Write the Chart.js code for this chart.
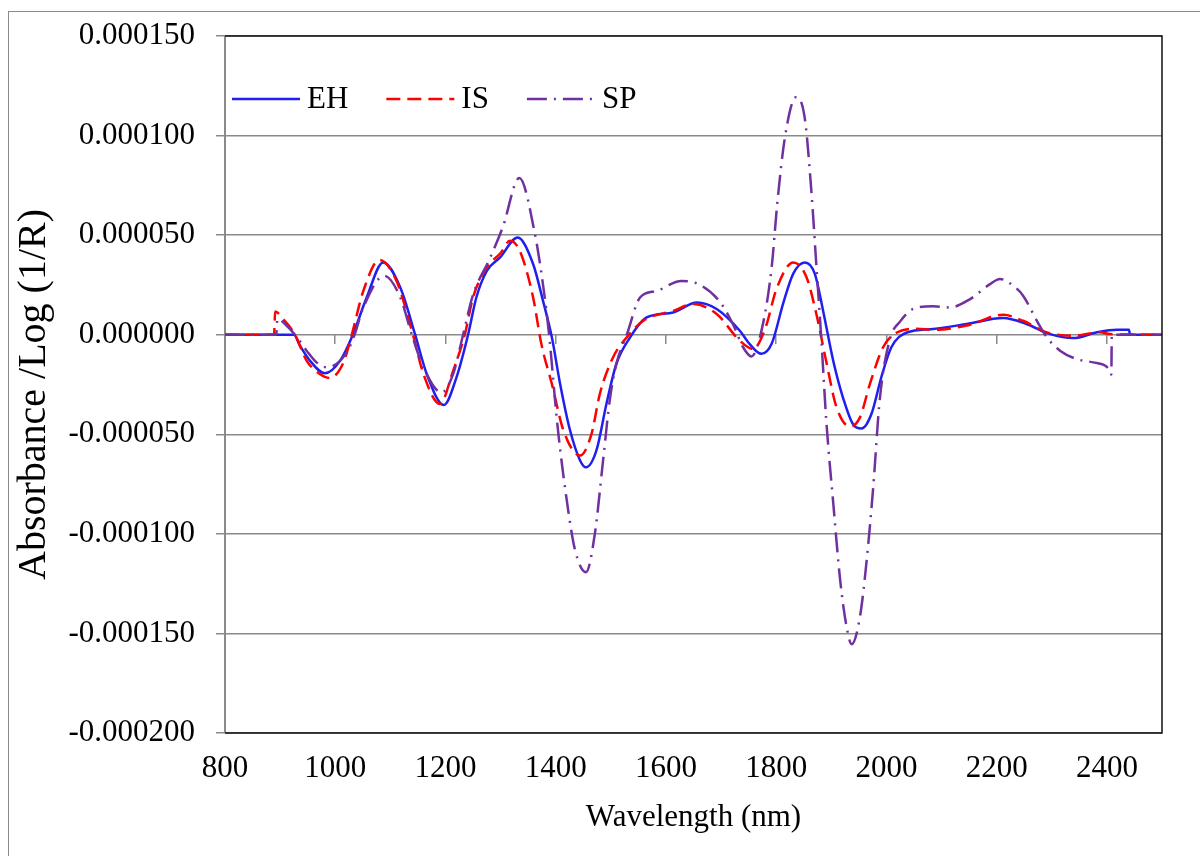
<!DOCTYPE html>
<html>
<head>
<meta charset="utf-8">
<script src="https://cdn.jsdelivr.net/npm/chart.js@4.4.1/dist/chart.umd.min.js"></script>
<style>
  body { margin: 0; background: #fff; }
  #frame { position: absolute; left: 8px; top: 11px; width: 1300px; height: 900px;
           border-left: 1px solid #8a8a8a; border-top: 1px solid #8a8a8a; }
  #chart { position: absolute; left: 0; top: 0; }
</style>
</head>
<body>
<div id="frame"></div>
<canvas id="chart" width="1200" height="856"></canvas>
<script>
// wavelength (nm) and absorbance
const xTicks = [800, 1000, 1200, 1400, 1600, 1800, 2000, 2200, 2400];

const ehNm = [800, 925, 936, 954, 981, 1009, 1032, 1057, 1087, 1118, 1145, 1166, 1197, 1220, 1241,
  1256, 1275, 1299, 1331, 1359, 1377, 1393, 1408, 1426, 1444, 1455, 1474, 1492, 1510, 1535,
  1565, 1613, 1656, 1692, 1734, 1752, 1773, 1792, 1813, 1831, 1852, 1870, 1885, 1904, 1922,
  1940, 1955, 1973, 1991, 2009, 2037, 2085, 2146, 2212, 2254, 2297, 2339, 2382, 2418, 2440, 2442, 2500];
const ehAbs = [0, 0, -5.5e-6, -13e-6, -19.4e-6, -13e-6, 0, 18.7e-6, 36.3e-6, 23.7e-6, 0, -19.7e-6, -35.3e-6, -21.4e-6, 0,
  18.7e-6, 32e-6, 38.8e-6, 48.8e-6, 35.5e-6, 17e-6, -1.3e-6, -24.7e-6, -48e-6, -63e-6, -66.6e-6, -58e-6, -34.8e-6, -14.7e-6, -1.3e-6,
  8.7e-6, 11.2e-6, 16.2e-6, 12.9e-6, 2e-6, -4.7e-6, -9.6e-6, -4.4e-6, 16e-6, 30.7e-6, 36.3e-6, 30.7e-6, 12.2e-6, -13.7e-6, -32.3e-6,
  -45.2e-6, -47.1e-6, -39.7e-6, -21.1e-6, -6.3e-6, 1.1e-6, 2.9e-6, 5.4e-6, 8.4e-6, 5.4e-6, 0.3e-6, -1.7e-6, 1.2e-6, 2.5e-6, 2.5e-6, 0, 0];

const isNm = [800, 889, 891, 905, 927, 948, 972, 990, 1015, 1030, 1051, 1080, 1111, 1141, 1160,
  1190, 1214, 1235, 1250, 1275, 1300, 1317, 1335, 1359, 1374, 1393, 1414, 1444, 1465, 1480,
  1504, 1529, 1559, 1613, 1650, 1692, 1734, 1758, 1780, 1801, 1831, 1855, 1873, 1891, 1909,
  1934, 1952, 1970, 1994, 2019, 2055, 2085, 2146, 2212, 2248, 2291, 2339, 2388, 2406, 2500];
const isAbs = [0, 0, 11.7e-6, 8e-6, 0, -13e-6, -19.7e-6, -21.7e-6, -13.9e-6, 0, 22e-6, 37.5e-6, 27.1e-6, 0, -19.7e-6,
  -34.8e-6, -18e-6, 0, 18.7e-6, 33.8e-6, 41e-6, 47.2e-6, 42e-6, 18.7e-6, -4.7e-6, -24.7e-6, -48e-6, -60.7e-6, -49.8e-6, -29.8e-6,
  -11.4e-6, -1.3e-6, 7e-6, 12e-6, 15.4e-6, 10.4e-6, -3e-6, -7.2e-6, 3e-6, 23.3e-6, 36.3e-6, 28.9e-6, 10.3e-6, -13.7e-6, -36e-6,
  -46.1e-6, -41.5e-6, -24.8e-6, -6.3e-6, 1.1e-6, 3e-6, 2.4e-6, 4.6e-6, 10e-6, 7e-6, 1.2e-6, -0.5e-6, 1.2e-6, 0.3e-6, 0];

const spNm = [800, 893, 895, 910, 927, 948, 966, 985, 1021, 1035, 1051, 1089, 1118, 1139, 1160,
  1193, 1214, 1232, 1250, 1280, 1304, 1334, 1362, 1377, 1388, 1403, 1420, 1435, 1455, 1471,
  1486, 1498, 1510, 1529, 1553, 1583, 1628, 1662, 1698, 1722, 1740, 1755, 1777, 1792, 1802,
  1816, 1836, 1852, 1864, 1873, 1882, 1891, 1904, 1916, 1928, 1937, 1952, 1964, 1976, 1988,
  2006, 2025, 2049, 2085, 2115, 2152, 2188, 2206, 2230, 2248, 2273, 2291, 2315, 2345, 2375,
  2406, 2408, 2409, 2500];
const spAbs = [0, 0, 8e-6, 5e-6, 0, -8e-6, -13.9e-6, -16.4e-6, -8.9e-6, 0, 13.7e-6, 29.6e-6, 18.7e-6, 0, -16.4e-6,
  -29e-6, -19.7e-6, 0, 20e-6, 38e-6, 54e-6, 78.7e-6, 51e-6, 25e-6, 0, -45e-6, -83e-6, -108e-6, -119.3e-6, -100e-6,
  -63e-6, -33e-6, -14.7e-6, 0, 18.7e-6, 22e-6, 27e-6, 25e-6, 16.5e-6, 5e-6, -6.3e-6, -10.9e-6, 6.7e-6, 34.4e-6, 65.9e-6,
  99.3e-6, 119.3e-6, 108.5e-6, 71.5e-6, 34.4e-6, -2.6e-6, -43.4e-6, -86e-6, -123e-6, -147e-6, -155.4e-6, -141.6e-6, -113.8e-6, -76.8e-6, -32.3e-6,
  -2.6e-6, 6.7e-6, 13e-6, 14.3e-6, 13.7e-6, 17.9e-6, 25.4e-6, 28e-6, 24.6e-6, 19.6e-6, 7e-6, -1.3e-6, -8e-6, -12.2e-6, -13.9e-6,
  -18e-6, -20e-6, 0, 0];

const toPoints = (xs, ys) => xs.map((x, i) => ({ x: x, y: ys[i] }));
const fixedXTicks = s => { s.ticks = xTicks.map(v => ({ value: v })); };

Chart.defaults.font.family = '"Liberation Serif", "Times New Roman", serif';
Chart.defaults.font.size = 31;
Chart.defaults.color = "#000";

const gridGray = "#8a8a8a";

// legend drawn inside the plot, top left
const insideLegend = {
  id: "insideLegend",
  afterDatasetsDraw(chart) {
    const { ctx, chartArea } = chart;
    let x = chartArea.left + 7;
    const y = chartArea.top + 63;
    ctx.save();
    ctx.font = '31px "Liberation Serif", serif';
    ctx.textBaseline = "middle";
    chart.data.datasets.forEach(ds => {
      ctx.beginPath();
      ctx.strokeStyle = ds.borderColor;
      ctx.lineWidth = ds.borderWidth;
      ctx.setLineDash(ds.borderDash || []);
      ctx.moveTo(x, y);
      ctx.lineTo(x + 68, y);
      ctx.stroke();
      ctx.setLineDash([]);
      ctx.fillStyle = "#000";
      ctx.fillText(ds.label, x + 75, y + 1);
      x += 75 + ctx.measureText(ds.label).width + 38;
    });
    ctx.restore();
  }
};

// black frame on top / right / bottom of plot area
const plotFrame = {
  id: "plotFrame",
  afterDraw(chart) {
    const { ctx, chartArea: a } = chart;
    ctx.save();
    ctx.strokeStyle = "#111";
    ctx.lineWidth = 1.5;
    ctx.beginPath();
    ctx.moveTo(a.left, a.top);
    ctx.lineTo(a.right, a.top);
    ctx.lineTo(a.right, a.bottom);
    ctx.lineTo(a.left, a.bottom);
    ctx.stroke();
    ctx.restore();
  }
};

new Chart(document.getElementById("chart"), {
  type: "line",
  data: {
    datasets: [
      {
        label: "EH",
        data: toPoints(ehNm, ehAbs),
        borderColor: "#1f1ff0",
        borderWidth: 2.5,
        order: 3
      },
      {
        label: "IS",
        data: toPoints(isNm, isAbs),
        borderColor: "#ff0000",
        borderWidth: 2.5,
        borderDash: [14, 7],
        order: 2
      },
      {
        label: "SP",
        data: toPoints(spNm, spAbs),
        borderColor: "#7030a0",
        borderWidth: 2.5,
        borderDash: [20, 7, 2, 7],
        order: 1
      }
    ]
  },
  options: {
    responsive: false,
    animation: false,
    devicePixelRatio: 1,
    layout: { padding: { left: 0, right: 38, top: 36, bottom: 0 } },
    elements: {
      point: { radius: 0 },
      line: { cubicInterpolationMode: "monotone", fill: false }
    },
    plugins: { legend: { display: false }, tooltip: { enabled: false } },
    scales: {
      x: {
        type: "linear",
        min: 800,
        max: 2500,
        afterBuildTicks: fixedXTicks,
        afterFit: s => { s.height = 123; },
        ticks: { autoSkip: false, maxRotation: 0, padding: 17, callback: v => String(v) },
        grid: { display: false, drawTicks: false },
        border: { display: false },
        title: { display: true, text: "Wavelength (nm)", padding: { top: 0, bottom: 20 } }
      },
      x0: {
        axis: "x",
        type: "linear",
        position: { y: 0 },
        min: 800,
        max: 2500,
        afterBuildTicks: fixedXTicks,
        ticks: { display: false },
        grid: { drawOnChartArea: false, drawTicks: true, tickLength: 9, color: gridGray, lineWidth: 1.5 },
        border: { display: false }
      },
      y: {
        min: -0.0002,
        max: 0.00015,
        afterFit: s => { s.width = 225; s.paddingTop = 0; s.paddingBottom = 0; },
        ticks: {
          stepSize: 0.00005,
          padding: 21,
          callback: v => (Math.abs(v) < 1e-12 ? 0 : v).toFixed(6)
        },
        grid: { color: gridGray, lineWidth: 1.5, tickLength: 9 },
        border: { color: gridGray, width: 2 },
        title: { display: true, text: "Absorbance /Log (1/R)  ", font: { size: 40 }, padding: { top: 10, bottom: 0 } }
      }
    }
  },
  plugins: [insideLegend, plotFrame]
});
</script>
</body>
</html>
